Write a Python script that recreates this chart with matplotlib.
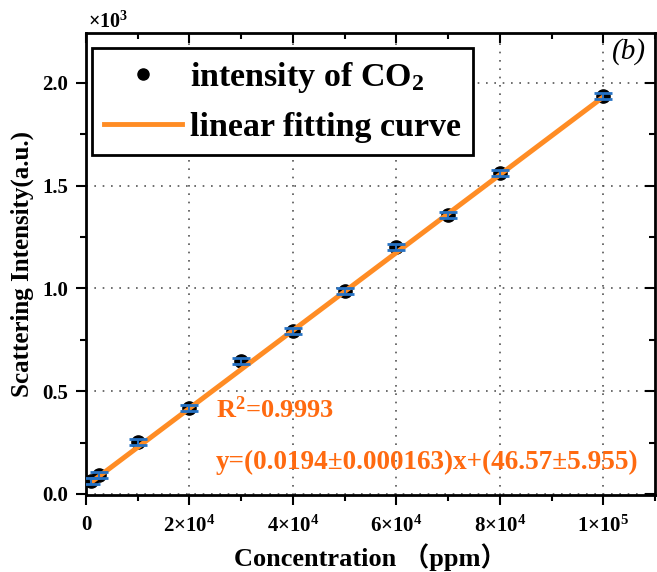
import matplotlib
matplotlib.use("Agg")
import matplotlib.pyplot as plt
from matplotlib.lines import Line2D
from matplotlib.ticker import MultipleLocator

plt.rcParams['font.family'] = ['Liberation Serif', 'DejaVu Sans']
plt.rcParams['font.weight'] = 'bold'
plt.rcParams['mathtext.fontset'] = 'custom'
plt.rcParams['mathtext.rm'] = 'Liberation Serif:bold'
plt.rcParams['mathtext.bf'] = 'Liberation Serif:bold'
plt.rcParams['mathtext.it'] = 'Liberation Serif:italic:bold'

# data (concentration in ppm, intensity in a.u.)
conc = [1000, 2500, 10000, 20000, 30000, 40000, 50000, 60000, 70000, 80000, 100000]
intensity = [63, 92, 253, 418, 647, 793, 988, 1202, 1358, 1562, 1937]
intensity_err = [14, 14, 14, 14, 15, 15, 15, 15, 16, 16, 16]

fit_x = [1000, 100000]
fit_y = [57, 1932]

xtick_vals = [0, 20000, 40000, 60000, 80000, 100000]
xtick_labels = ['0', '2×10$^{4}$', '4×10$^{4}$', '6×10$^{4}$', '8×10$^{4}$', '1×10$^{5}$']
ytick_vals = [0, 500, 1000, 1500, 2000]
ytick_labels = ['0.0', '0.5', '1.0', '1.5', '2.0']

orange_line = '#FF8C24'
orange_text = '#FF6A10'
blue = '#2672C4'

W, H = 657, 572
fig = plt.figure(figsize=(W/100, H/100), dpi=100)
ax = fig.add_axes([86/W, 1-495/H, (655-86)/W, (495-33)/H])

ax.plot(conc, intensity, 'o', color='black', markersize=9.5, zorder=3)
ax.plot(fit_x, fit_y, '-', color=orange_line, linewidth=3.6, zorder=4, solid_capstyle='butt')
ax.errorbar(conc, intensity, yerr=intensity_err, fmt='none', ecolor=blue,
            elinewidth=1.5, capsize=6.5, capthick=2, zorder=5)

ax.set_xlim(0, 110000)
ax.set_ylim(-5, 2243)
ax.set_xticks(xtick_vals)
ax.set_xticklabels(xtick_labels)
ax.set_yticks(ytick_vals)
ax.set_yticklabels(ytick_labels)
ax.xaxis.set_minor_locator(MultipleLocator(10000))
ax.yaxis.set_minor_locator(MultipleLocator(250))

ax.tick_params(axis='both', which='major', labelsize=15, width=1.5, length=7)
ax.tick_params(axis='both', which='minor', width=1.5, length=4)
ax.tick_params(axis='x', which='both', direction='out', top=True)
ax.tick_params(axis='y', which='both', direction='out', right=True)
ax.tick_params(axis='x', which='major', pad=7.5)
ax.tick_params(axis='y', which='major', pad=6)
# top/right ticks point inward
for tick in ax.xaxis.get_major_ticks() + ax.xaxis.get_minor_ticks():
    tick.tick2line.set_marker(3)  # TICKDOWN
for tick in ax.yaxis.get_major_ticks() + ax.yaxis.get_minor_ticks():
    tick.tick2line.set_marker(0)  # TICKLEFT

for s in ax.spines.values():
    s.set_linewidth(2)

ax.grid(True, which='major', linestyle=(0, (1, 4)), color='#555555', linewidth=1.2)
ax.set_axisbelow(True)

ax.set_xlabel('Concentration （ppm）', fontsize=19, fontweight='bold',
              family=['Liberation Serif', 'Noto Sans CJK SC'], labelpad=5)
ax.set_ylabel('Scattering Intensity(a.u.)', fontsize=18, fontweight='bold', labelpad=6)

fig.text(88/W, 1-22/H, '×10$^{3}$', fontsize=14.5, fontweight='bold', va='center', ha='left')

ax.text(0.985, 0.989, '(b)', transform=ax.transAxes, fontsize=21, style='italic',
        fontweight='normal', ha='right', va='top')

fig.text(216/W, 1-410/H, 'R$^{2}$=0.9993', fontsize=19, color=orange_text,
         fontweight='bold', ha='left', va='center')
fig.text(216/W, 1-462/H, 'y=(0.0194±0.000163)x+(46.57±5.955)', fontsize=19.5, color=orange_text,
         fontweight='bold', ha='left', va='center')

handles = [Line2D([], [], marker='o', color='black', linestyle='none', markersize=8),
           Line2D([], [], color=orange_line, linewidth=3.5)]
leg = ax.legend(handles, ['intensity of CO$_{2}$', 'linear fitting curve'],
                loc='upper left', bbox_to_anchor=((92-86)/569, (495-48)/462),
                borderaxespad=0, fontsize=24.5, frameon=True, fancybox=False,
                edgecolor='black', framealpha=1, handlelength=2.3,
                handletextpad=0.22, labelspacing=0.5, borderpad=0.35)
leg.get_frame().set_linewidth(2)

fig.savefig('out.png', dpi=100)
